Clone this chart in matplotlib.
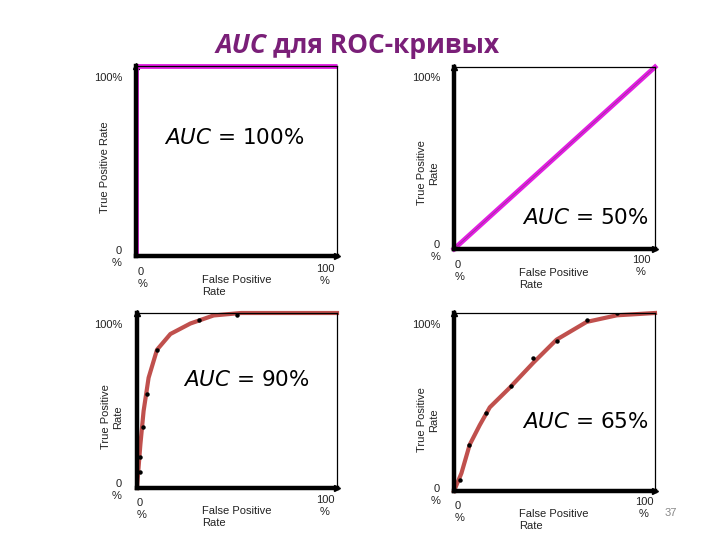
import matplotlib.pyplot as plt

# ROC curves (FPR, TPR in fractions of 1)
perfect_fpr = [0, 0, 1]
perfect_tpr = [0, 1, 1]

random_fpr = [0, 1]
random_tpr = [0, 1]

good_curve_fpr = [0, 0.008, 0.017, 0.033, 0.058, 0.10, 0.167, 0.267, 0.383, 0.52, 0.75, 1.0]
good_curve_tpr = [0, 0.12, 0.25, 0.44, 0.63, 0.79, 0.88, 0.94, 0.986, 1.0, 1.0, 1.0]
good_pts_fpr = [0.013, 0.013, 0.028, 0.05, 0.10, 0.31, 0.50]
good_pts_tpr = [0.09, 0.18, 0.35, 0.54, 0.79, 0.96, 0.99]

fair_curve_fpr = [0, 0.037, 0.078, 0.128, 0.178, 0.277, 0.394, 0.51, 0.66, 0.81, 1.0]
fair_curve_tpr = [0, 0.10, 0.26, 0.37, 0.47, 0.58, 0.72, 0.85, 0.95, 0.987, 1.0]
fair_pts_fpr = [0.028, 0.075, 0.158, 0.282, 0.394, 0.51, 0.664, 0.81]
fair_pts_tpr = [0.06, 0.26, 0.44, 0.59, 0.75, 0.84, 0.96, 1.0]

auc_labels = ["100%", "50%", "90%", "65%"]

W, H = 720, 540
MAGENTA = "#e21ee2"
BROWN = "#c0504d"
small = dict(family="Liberation Sans", fontsize=8, color="#222222")


def px(x, y):
    return x / W, 1 - y / H


def make_axes(left, top, right, bottom):
    x0, y1 = px(left, top)
    x1, y0 = px(right, bottom)
    ax = fig.add_axes([x0, y0, x1 - x0, y1 - y0])
    ax.set_xlim(0, 1)
    ax.set_ylim(0, 1)
    ax.set_xticks([])
    ax.set_yticks([])
    ax.spines[["left", "bottom"]].set_linewidth(3.2)
    ax.spines[["top", "right"]].set_linewidth(0.9)
    ax.plot(0, 1, "^", color="k", ms=5, transform=ax.transAxes, clip_on=False)
    ax.plot(1, 0, ">", color="k", ms=5, transform=ax.transAxes, clip_on=False)
    return ax


fig = plt.figure(figsize=(7.2, 5.4), dpi=100)

# title: italic "AUC" followed by the rest
t1 = fig.text(*px(216, 53), "AUC", fontsize=19, fontweight="bold", fontstyle="italic",
              family="Open Sans", color="#7a1f78", va="baseline")
bb = t1.get_window_extent(renderer=fig.canvas.get_renderer())
fig.text(bb.x1 / W + 6 / W, 1 - 53 / H, "для ROC-кривых", fontsize=19, fontweight="bold",
         family="Open Sans", color="#7a1f78", va="baseline")

# panel 1
ax1 = make_axes(136, 66, 337, 256)
ax1.plot(perfect_fpr, perfect_tpr, color=MAGENTA, lw=3.5, clip_on=False,
         solid_capstyle="butt")
ax1.text(0.14, 0.62, r"$\mathit{AUC}$ = " + auc_labels[0], transform=ax1.transAxes,
         fontsize=15.5, va="center")

# panel 2
ax2 = make_axes(454, 67, 655, 249)
ax2.plot(random_fpr, random_tpr, color=MAGENTA, lw=3.5, clip_on=False)
ax2.plot(random_fpr, random_tpr, color="#a0309a", lw=0.6, clip_on=False)
ax2.text(0.97, 0.17, r"$\mathit{AUC}$ = " + auc_labels[1], transform=ax2.transAxes,
         fontsize=15.5, va="center", ha="right")

# panel 3
ax3 = make_axes(137, 313, 337, 488)
ax3.plot(good_curve_fpr, good_curve_tpr, color=BROWN, lw=3, clip_on=False,
         solid_joinstyle="round")
ax3.plot(good_pts_fpr, good_pts_tpr, "o", color="k", ms=2.2)
ax3.text(0.23, 0.62, r"$\mathit{AUC}$ = " + auc_labels[2], transform=ax3.transAxes,
         fontsize=15.5, va="center")

# panel 4
ax4 = make_axes(454, 313, 655, 491)
ax4.plot(fair_curve_fpr, fair_curve_tpr, color=BROWN, lw=3, clip_on=False,
         solid_joinstyle="round")
ax4.plot(fair_pts_fpr, fair_pts_tpr, "o", color="k", ms=2.2)
ax4.text(0.97, 0.39, r"$\mathit{AUC}$ = " + auc_labels[3], transform=ax4.transAxes,
         fontsize=15.5, va="center", ha="right")

# axis annotations (pixel positions of the original slide)
for (xr, y100, y0, ylab_x, ylab_y, ylab, xl, xlab_y, xr100, x100_y, xlab_x) in [
    (122, 78, 257, 105, 167, "True Positive Rate", 138, 278, 325, 275, 202),
    (440, 78, 251, 428, 173, "True Positive\nRate", 455, 271, 641, 266, 519),
    (122, 325, 490, 112, 417, "True Positive\nRate", 137, 509, 325, 506, 202),
    (440, 325, 495, 428, 420, "True Positive\nRate", 455, 512, 644, 508, 519),
]:
    fig.text(*px(xr, y100), "100%", ha="right", va="center", **small)
    fig.text(*px(xr, y0), "0\n%", ha="right", va="center", **small)
    fig.text(*px(ylab_x, ylab_y), ylab, rotation=90, ha="center", va="center",
             multialignment="center", **small)
    fig.text(*px(xl, xlab_y), "0\n%", ha="left", va="center", **small)
    fig.text(*px(xr100, x100_y), "100\n%", ha="center", va="center",
             multialignment="center", **small)
    fig.text(*px(xlab_x, xlab_y + 8), "False Positive\nRate", ha="left", va="center",
             **small)

fig.text(*px(671, 513), "37", fontsize=8, family="Liberation Sans", color="#888888",
         ha="center", va="center")

fig.savefig("out.png", dpi=100)
